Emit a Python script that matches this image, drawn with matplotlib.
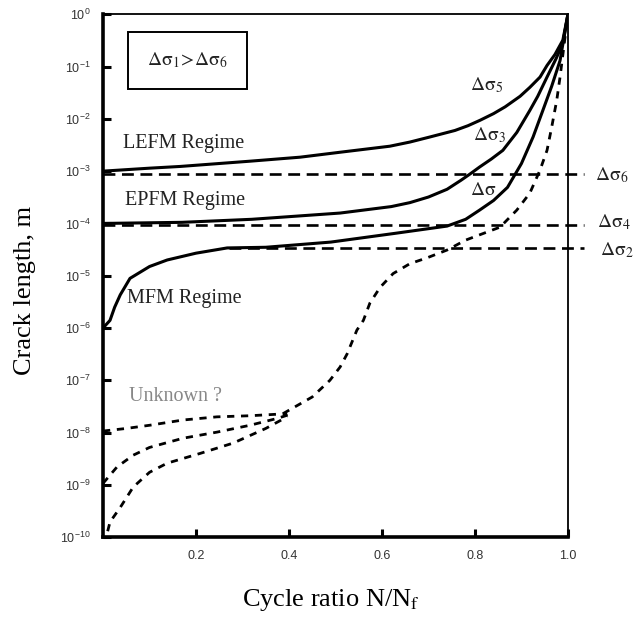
"""
Crack length vs cycle ratio - fatigue regimes (LEFM / EPFM / MFM)
"""
import numpy as np
import matplotlib
matplotlib.use('Agg')
import matplotlib.pyplot as plt
from matplotlib.patches import Rectangle
from matplotlib.ticker import NullLocator, FixedLocator

# Solid curves, crack length (m) vs N/Nf
x_ds5 = [0.0, 0.10, 0.166, 0.316, 0.424, 0.51, 0.617, 0.66, 0.703, 0.757, 0.785, 0.811,
         0.84, 0.865, 0.897, 0.918, 0.940, 0.955, 0.972, 0.989, 1.0]
a_ds5 = [1.0e-3, 1.14e-3, 1.23e-3, 1.55e-3, 1.85e-3, 2.3e-3, 3.0e-3, 3.6e-3, 4.5e-3, 6.0e-3, 7.4e-3, 9.4e-3,
         1.26e-2, 1.7e-2, 2.7e-2, 4.0e-2, 6.3e-2, 0.105, 0.17, 0.32, 1.0]

x_ds3 = [0.0, 0.17, 0.32, 0.51, 0.62, 0.66, 0.70, 0.74, 0.77, 0.79, 0.81, 0.835, 0.86, 0.89,
         0.918, 0.935, 0.955, 0.975, 0.989, 1.0]
a_ds3 = [1.0e-4, 1.05e-4, 1.2e-4, 1.58e-4, 2.1e-4, 2.5e-4, 3.2e-4, 4.5e-4, 6.7e-4, 8.9e-4, 1.2e-3, 1.7e-3, 2.5e-3, 5.5e-3,
         1.45e-2, 2.7e-2, 6.3e-2, 0.145, 0.28, 1.0]

x_ds1 = [0.0, 0.015, 0.025, 0.037, 0.058, 0.08, 0.10, 0.138, 0.20, 0.267, 0.35, 0.49,
         0.63, 0.74, 0.78, 0.81, 0.84, 0.87, 0.90, 0.925, 0.946, 0.965, 0.983, 1.0]
a_ds1 = [1.0e-6, 1.4e-6, 2.5e-6, 4.3e-6, 8.9e-6, 1.17e-5, 1.5e-5, 2.0e-5, 2.7e-5, 3.4e-5, 3.5e-5, 4.4e-5,
         6.5e-5, 8.9e-5, 1.2e-4, 1.8e-4, 2.75e-4, 4.9e-4, 1.4e-3, 4.5e-3, 1.45e-2, 4.2e-2, 0.13, 1.0]

# Constant (dashed) crack lengths
x_ds6 = [0.0, 1.035]
a_ds6 = [8.7e-4, 8.7e-4]
x_ds4 = [0.0, 1.035]
a_ds4 = [9.5e-5, 9.5e-5]
x_ds2 = [0.27, 1.035]
a_ds2 = [3.4e-5, 3.4e-5]

# "Unknown" small-crack branches
x_unk_a = [0.0, 0.05, 0.10, 0.172, 0.245, 0.316, 0.396]
a_unk_a = [1.07e-8, 1.2e-8, 1.38e-8, 1.74e-8, 2.0e-8, 2.1e-8, 2.3e-8]
x_unk_b = [0.0, 0.03, 0.065, 0.10, 0.172, 0.245, 0.316, 0.374, 0.40]
a_unk_b = [1.07e-9, 2.2e-9, 3.7e-9, 5.2e-9, 7.8e-9, 1.02e-8, 1.38e-8, 1.86e-8, 2.2e-8]
x_unk_c = [0.01, 0.015, 0.037, 0.065, 0.10, 0.138, 0.209, 0.28, 0.35, 0.396]
a_unk_c = [1.3e-10, 1.95e-10, 3.7e-10, 9.1e-10, 1.74e-9, 2.6e-9, 4.0e-9, 6.3e-9, 1.2e-8, 2.0e-8]

# S-shaped dashed growth curve
x_s = [0.387, 0.45, 0.488, 0.51, 0.525, 0.546, 0.56, 0.574, 0.596, 0.624,
       0.66, 0.697, 0.74, 0.78, 0.854, 0.89, 0.918, 0.94, 0.955, 0.965,
       0.976, 0.983, 1.0]
a_s = [2.3e-8, 4.8e-8, 1.0e-7, 1.8e-7, 3.2e-7, 9.1e-7, 1.4e-6, 3.0e-6, 6.0e-6, 1.1e-5,
       1.7e-5, 2.2e-5, 3.1e-5, 4.8e-5, 8.5e-5, 1.8e-4, 3.8e-4, 1.05e-3, 2.5e-3, 6.9e-3,
       2.3e-2, 6.3e-2, 1.0]

x_ticks = [0.2, 0.4, 0.6, 0.8, 1.0]
x_ticklabels = ['0.2', '0.4', '0.6', '0.8', '1.0']
y_ticks = [1e0, 1e-1, 1e-2, 1e-3, 1e-4, 1e-5, 1e-6, 1e-7, 1e-8, 1e-9, 1e-10]

serif = 'Liberation Serif'
sans = 'Liberation Sans'

fig = plt.figure(figsize=(6.36, 6.21), dpi=100)
ax = fig.add_axes([0.162, 0.135, 0.731, 0.842])
ax.set_yscale('log')
ax.set_xlim(0, 1)
ax.set_ylim(1e-10, 1)

solid = dict(color='black', lw=2.2, solid_capstyle='butt', solid_joinstyle='round')
dash_h = dict(color='black', lw=1.9, linestyle=(0, (4.5, 2.5)), clip_on=False)
dash_c = dict(color='black', lw=2.0, linestyle=(0, (2.6, 2.4)))

ax.plot(x_ds5, a_ds5, **solid)
ax.plot(x_ds3, a_ds3, **solid)
ax.plot(x_ds1, a_ds1, **solid)
ax.plot(x_ds6, a_ds6, **dash_h)
ax.plot(x_ds4, a_ds4, **dash_h)
ax.plot(x_ds2, a_ds2, **dash_h)
ax.plot(x_unk_a, a_unk_a, **dash_c)
ax.plot(x_unk_b, a_unk_b, **dash_c)
ax.plot(x_unk_c, a_unk_c, **dash_c)
ax.plot(x_s, a_s, **dash_c)

# axis styling
for side in ['left', 'bottom']:
    ax.spines[side].set_linewidth(2.6)
for side in ['top', 'right']:
    ax.spines[side].set_linewidth(1.3)
ax.xaxis.set_major_locator(FixedLocator(x_ticks))
ax.set_xticklabels(x_ticklabels)
ax.yaxis.set_major_locator(FixedLocator(y_ticks))
ax.yaxis.set_minor_locator(NullLocator())
ax.xaxis.set_minor_locator(NullLocator())
ax.tick_params(direction='in', length=6, width=2.2, top=False, right=False,
               labelsize=9, pad=9, labelcolor='#333333')
for lab in ax.get_xticklabels() + ax.get_yticklabels():
    lab.set_family(sans)

# regime labels
ax.text(0.043, 3.4e-3, 'LEFM Regime', family=serif, fontsize=14.5, va='center', color='#222222')
ax.text(0.047, 2.8e-4, 'EPFM Regime', family=serif, fontsize=14.5, va='center', color='#222222')
ax.text(0.052, 3.7e-6, 'MFM Regime', family=serif, fontsize=14.5, va='center', color='#222222')
ax.text(0.056, 5.0e-8, 'Unknown ?', family=serif, fontsize=14.5, va='center', color='#888888')

# stress range labels
lab = dict(fontsize=14, math_fontfamily='stix', va='baseline', ha='left', color='#222222')
ax.text(0.789, 0.035, r'$\mathrm{\Delta\sigma}_5$', **lab)
ax.text(0.796, 3.9e-3, r'$\mathrm{\Delta\sigma}_3$', **lab)
ax.text(0.789, 3.5e-4, r'$\mathrm{\Delta\sigma}$', **lab)
ax.text(1.058, 6.7e-4, r'$\mathrm{\Delta\sigma}_6$', **lab)
ax.text(1.062, 8.5e-5, r'$\mathrm{\Delta\sigma}_4$', **lab)
ax.text(1.069, 2.5e-5, r'$\mathrm{\Delta\sigma}_2$', **lab)

# boxed inequality
ax.add_patch(Rectangle((0.054, 0.857), 0.256, 0.109, transform=ax.transAxes,
                       fill=False, lw=1.4, edgecolor='black'))
ax.text(0.182, 0.912, r'$\mathrm{\Delta\sigma}_1\!>\!\mathrm{\Delta\sigma}_6$', transform=ax.transAxes,
        fontsize=14, math_fontfamily='stix', ha='center', va='center', color='#222222')

# axis titles
fig.text(0.04, 0.533, 'Crack length, m', rotation=90, family=serif, fontsize=19,
         ha='center', va='center')
fig.text(0.52, 0.034, r'Cycle ratio N/N$_{\mathrm{f}}$', family=serif, fontsize=19,
         math_fontfamily='stix', ha='center', va='center')

fig.savefig('out.png', dpi=100)
